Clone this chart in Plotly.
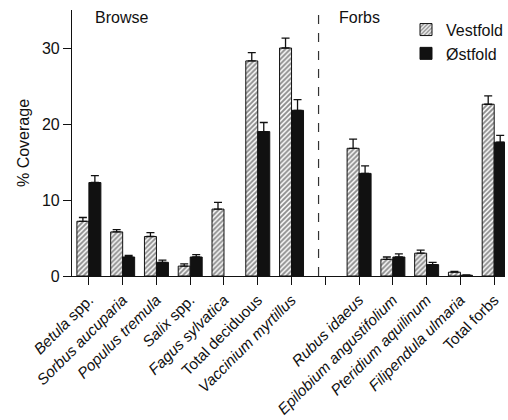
import plotly.graph_objects as go

categories = ["<i>Betula</i> spp.", "<i>Sorbus aucuparia</i>", "<i>Populus tremula</i>",
              "<i>Salix</i> spp.", "<i>Fagus sylvatica</i>", "Total deciduous",
              "<i>Vaccinium myrtillus</i>", "", "<i>Rubus idaeus</i>",
              "<i>Epilobium angustifolium</i>", "<i>Pteridium aquilinum</i>",
              "<i>Filipendula ulmaria</i>", "Total forbs"]

vestfold = [7.2, 5.8, 5.2, 1.3, 8.8, 28.3, 30.0, None, 16.8, 2.2, 3.0, 0.5, 22.6]
vestfold_se = [0.5, 0.3, 0.5, 0.3, 0.9, 1.1, 1.3, None, 1.2, 0.3, 0.4, 0.1, 1.1]
ostfold = [12.3, 2.5, 1.8, 2.5, None, 19.0, 21.8, None, 13.5, 2.5, 1.5, 0.1, 17.6]
ostfold_se = [0.9, 0.2, 0.3, 0.3, None, 1.2, 1.4, None, 1.0, 0.4, 0.3, 0.05, 0.9]

x = list(range(len(categories)))
font = "Liberation Sans, Arial, Helvetica, sans-serif"
ink = "#111"

fig = go.Figure()
fig.add_trace(go.Bar(
    x=x, y=vestfold, name="Vestfold",
    marker=dict(color="white", line=dict(color=ink, width=1),
                pattern=dict(shape="/", fgcolor="#1a1a1a", bgcolor="white", size=3.5, solidity=0.55)),
    error_y=dict(type="data", array=vestfold_se, arrayminus=[0] * len(x), symmetric=False,
                 color=ink, thickness=1.3, width=4),
))
fig.add_trace(go.Bar(
    x=x, y=ostfold, name="Østfold",
    marker=dict(color=ink, line=dict(color=ink, width=1)),
    error_y=dict(type="data", array=ostfold_se, arrayminus=[0] * len(x), symmetric=False,
                 color=ink, thickness=1.3, width=4),
))

fig.add_shape(type="line", xref="x", yref="paper", x0=6.8, x1=6.8, y0=0, y1=1,
              line=dict(color="#333", width=1.2, dash="dash"))

fig.add_annotation(text="Browse", xref="paper", yref="paper", x=0.115, y=0.97,
                   xanchor="center", yanchor="middle",
                   showarrow=False, font=dict(size=16, color=ink, family=font))
fig.add_annotation(text="Forbs", xref="paper", yref="paper", x=0.663, y=0.97,
                   xanchor="center", yanchor="middle",
                   showarrow=False, font=dict(size=16, color=ink, family=font))

fig.update_layout(
    width=508, height=420,
    margin=dict(l=72, r=0, t=10, b=144),
    paper_bgcolor="white", plot_bgcolor="white",
    barmode="group", bargap=0.29, bargroupgap=0,
    font=dict(family=font, color=ink),
    legend=dict(x=0.772, y=0.99, xanchor="left", yanchor="top",
                font=dict(size=16, color=ink), bgcolor="rgba(0,0,0,0)",
                tracegroupgap=0),
    showlegend=True,
)
fig.update_xaxes(
    tickmode="array", tickvals=x, ticktext=categories,
    range=[-0.5, 12.32], tickangle=-45, automargin=False,
    showline=True, linecolor=ink, linewidth=1.2,
    ticks="outside", ticklen=8, tickcolor=ink, tickwidth=1.2,
    showgrid=False, zeroline=False,
    tickfont=dict(size=15.3, color=ink),
)
fig.update_yaxes(
    range=[0, 35], tickvals=[0, 10, 20, 30], automargin=False,
    showline=True, linecolor=ink, linewidth=1.2,
    ticks="outside", ticklen=8, tickcolor=ink, tickwidth=1.2,
    showgrid=False, zeroline=False,
    tickfont=dict(size=16, color=ink),
    title=dict(text="% Coverage", font=dict(size=16, color=ink), standoff=8),
)

fig.write_html("out.html")
